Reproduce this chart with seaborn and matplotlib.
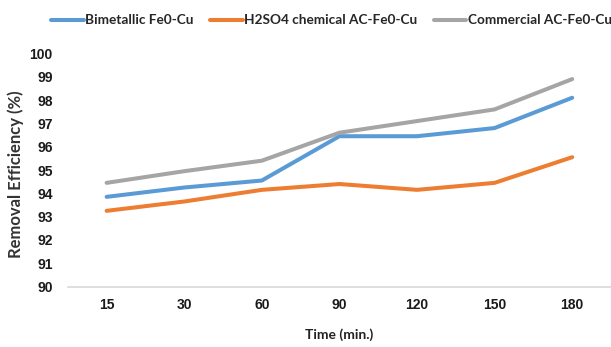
import matplotlib
matplotlib.use("Agg")
import matplotlib.pyplot as plt
import seaborn as sns
import pandas as pd

times = ["15", "30", "60", "90", "120", "150", "180"]
bimetallic = [93.85, 94.25, 94.55, 96.45, 96.45, 96.8, 98.1]
h2so4_ac = [93.25, 93.65, 94.15, 94.4, 94.15, 94.45, 95.55]
commercial_ac = [94.45, 94.95, 95.4, 96.6, 97.1, 97.6, 98.9]

series_names = ["Bimetallic Fe0-Cu", "H2SO4 chemical AC-Fe0-Cu", "Commercial AC-Fe0-Cu"]
colors = ["#5B9BD5", "#ED7D31", "#A5A5A5"]

df = pd.concat([
    pd.DataFrame({"Time": times, "Efficiency": vals, "Series": name})
    for name, vals in zip(series_names, [bimetallic, h2so4_ac, commercial_ac])
], ignore_index=True)

sns.set_theme(style="white")
plt.rcParams["font.family"] = ["Liberation Sans", "DejaVu Sans"]

fig = plt.figure(figsize=(6.11, 3.47), dpi=100)
ax = fig.add_axes([0.111, 0.174, 0.889, 0.672])

sns.lineplot(data=df, x="Time", y="Efficiency", hue="Series",
             palette=dict(zip(series_names, colors)), linewidth=2.9,
             sort=False, ax=ax, legend=False)

ax.set_xlim(-0.5, 6.5)
ax.set_ylim(90, 100)
ax.set_yticks(range(90, 101))
ax.tick_params(axis="both", length=0, labelsize=10)
ax.tick_params(axis="x", pad=8)
ax.tick_params(axis="y", pad=11)
for lbl in ax.get_xticklabels() + ax.get_yticklabels():
    lbl.set_fontweight("bold")
    lbl.set_color("#1a1a1a")

for side in ["top", "right", "left"]:
    ax.spines[side].set_visible(False)
ax.spines["bottom"].set_color("#D9D9D9")
ax.spines["bottom"].set_linewidth(1.2)

ax.set_xlabel("Time (min.)", fontsize=10, fontweight="bold",
              family=["Lato", "Liberation Sans"], color="#222222")
ax.xaxis.set_label_coords(0.5, -0.18)
ax.set_ylabel("Removal Efficiency (%)", fontsize=12, fontweight="bold",
              family=["Lato", "DejaVu Sans"], color="#333333")
ax.yaxis.set_label_coords(-0.08, 0.483)

handles = [plt.Line2D([], [], color=c, linewidth=2.9) for c in colors]
fig.legend(handles, series_names, loc="center", bbox_to_anchor=(0.5426, 0.941),
           ncol=3, frameon=False, handlelength=2.4, handletextpad=0.1,
           columnspacing=1.2, borderpad=0, borderaxespad=0,
           prop={"family": ["Lato", "Liberation Sans"],
                 "weight": "bold", "size": 9.8})

fig.savefig("out.png", dpi=100)
